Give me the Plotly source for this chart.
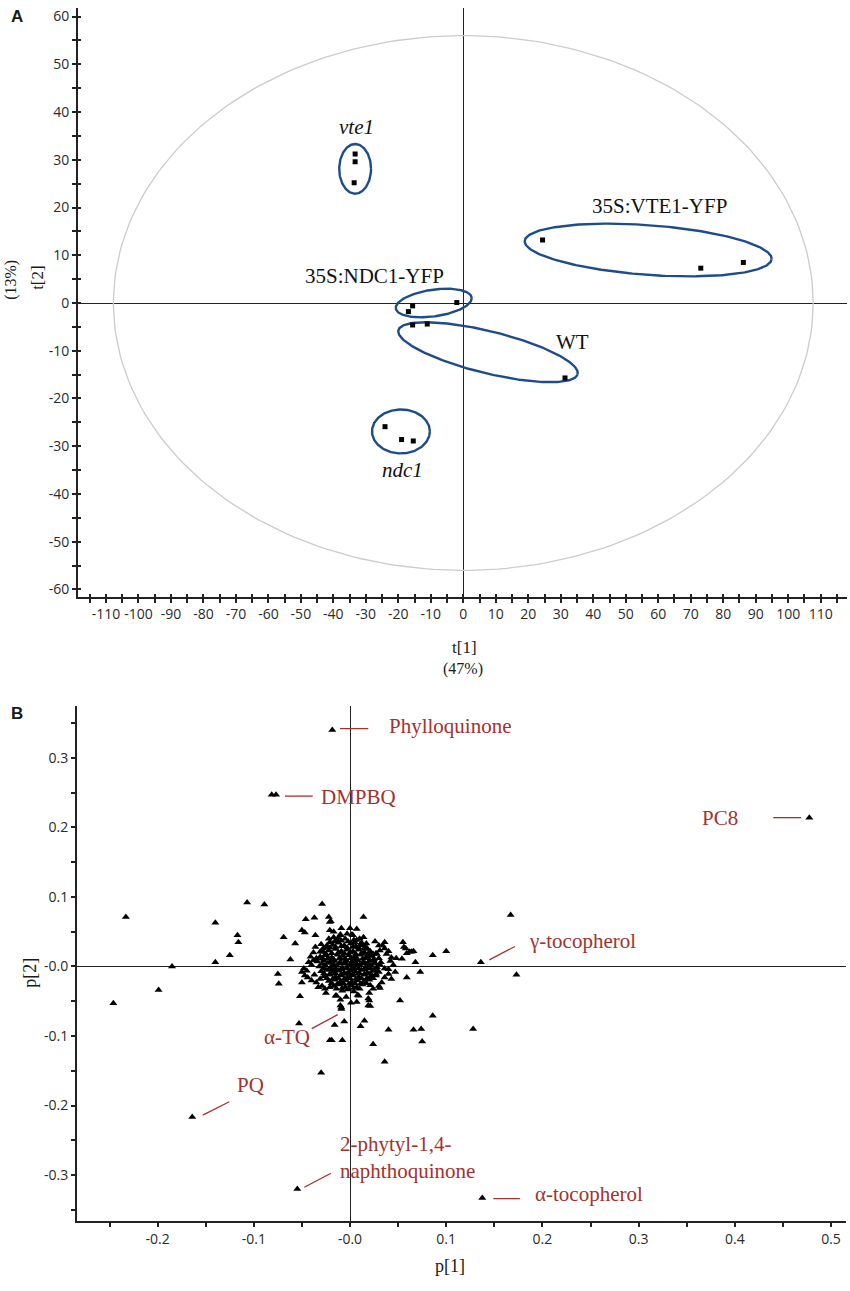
import numpy as np
import plotly.graph_objects as go

# ---------------- panel A : scores t[1] / t[2] ----------------
vte1_x = [-33.3, -33.3, -33.6]
vte1_y = [31.2, 29.6, 25.2]
vte1oe_x = [24.4, 73.1, 86.2]
vte1oe_y = [13.2, 7.3, 8.5]
ndc1oe_x = [-15.6, -16.9, -2.0]
ndc1oe_y = [-0.6, -1.8, 0.1]
wt_x = [-15.6, -11.1, 31.3]
wt_y = [-4.6, -4.4, -15.7]
ndc1_x = [-24.1, -19.0, -15.4]
ndc1_y = [-25.9, -28.6, -28.9]

# group ellipses: centre x, centre y, half width (t1 units), half height (t2 units), tilt (deg)
group_names = ["vte1", "35S:VTE1-YFP", "35S:NDC1-YFP", "WT", "ndc1"]
group_cx = [-33.3, 56.9, -9.1, 7.6, -19.2]
group_cy = [28.1, 11.1, 0.0, -10.3, -26.9]
group_rx = [4.9, 38.1, 11.8, 28.4, 8.9]
group_ry = [5.2, 5.2, 2.8, 4.4, 4.6]
group_tilt = [0, -4.2, 8.2, -13.8, 0]
hotelling_rx, hotelling_ry = 107.7, 56.0

# ---------------- panel B : loadings p[1] / p[2] ----------------
named_x = [-0.0184, -0.0814, -0.0769, 0.4775, 0.136, 0.1375, -0.0548, -0.164, -0.010, -0.009]
named_y = [0.340, 0.247, 0.247, 0.214, 0.006, -0.333, -0.320, -0.2166, -0.056, -0.061]

outer_x = [-0.233, -0.246, -0.185, -0.199, -0.140, -0.140, -0.125, -0.117, -0.116, -0.107,
           -0.089, -0.075, -0.074, -0.069, -0.057, -0.062, -0.029, -0.046, -0.037, -0.022,
           0.014, -0.050, -0.047, -0.036, -0.021, -0.020, -0.052, -0.050, -0.053, -0.030,
           -0.021, -0.019, -0.008, -0.016, -0.006, 0.011, 0.015, 0.024, 0.036, 0.040,
           0.052, 0.066, 0.074, 0.075, 0.020, 0.019, 0.001, 0.086, 0.128, 0.167,
           0.173, 0.100, 0.086, 0.073, 0.059, 0.068, 0.064, 0.059, 0.055, 0.056,
           0.054, 0.036, 0.030]
outer_y = [0.071, -0.053, 0.000, -0.034, 0.063, 0.006, 0.016, 0.045, 0.035, 0.092,
           0.089, -0.011, -0.025, 0.042, 0.033, 0.010, 0.090, 0.068, 0.070, 0.071,
           0.071, 0.052, 0.049, 0.045, 0.064, 0.065, -0.043, -0.023, -0.082, -0.153,
           -0.106, -0.106, -0.106, -0.084, -0.079, -0.086, -0.078, -0.112, -0.137, -0.091,
           -0.049, -0.091, -0.090, -0.108, -0.049, -0.056, -0.052, -0.071, -0.090, 0.074,
           -0.012, 0.022, 0.016, -0.008, -0.016, 0.006, 0.021, 0.019, 0.035, 0.028,
           0.011, 0.035, 0.030]

edge_x = [0.007, 0.000, -0.009, -0.021, -0.017, 0.010, 0.016, 0.031, 0.036, 0.040,
          0.028, 0.043, 0.048, 0.058, 0.062, 0.066, 0.036, 0.040, 0.043, 0.033,
          0.021, 0.024, 0.031, 0.009, 0.007, 0.019, 0.021, -0.014, -0.010, -0.009,
          -0.021, -0.026, -0.029, -0.031, -0.035, -0.040, -0.045, -0.048, -0.050, -0.047,
          -0.043, -0.038, -0.041, -0.035, -0.031, -0.028, -0.024, -0.026, -0.021, -0.017,
          -0.014, -0.010, -0.003, 0.003, 0.007, 0.010, 0.017, 0.021, 0.024, 0.021,
          0.026, 0.022, 0.017]
edge_y = [0.054, 0.055, 0.055, 0.052, 0.050, 0.040, 0.028, 0.023, 0.026, 0.022,
          0.018, 0.013, 0.012, 0.026, 0.021, 0.022, -0.003, -0.011, -0.018, -0.023,
          -0.027, -0.032, -0.031, -0.042, -0.051, -0.046, -0.057, -0.042, -0.048, -0.059,
          -0.030, -0.032, -0.028, -0.018, -0.023, -0.020, -0.006, -0.003, -0.008, -0.013,
          0.006, 0.009, 0.014, 0.012, 0.021, 0.026, 0.030, 0.016, 0.035, 0.042,
          0.038, 0.045, 0.047, 0.045, 0.038, 0.030, 0.033, 0.018, 0.009, 0.001,
          -0.006, -0.013, -0.018]

ring_x = [-0.038, -0.040, -0.037, -0.033, -0.025, -0.015, -0.004, 0.008, 0.020, 0.030,
          0.036, 0.040, 0.042, 0.038, 0.034, 0.026, 0.014, 0.002, -0.010, -0.022,
          -0.030, -0.036, 0.045, 0.047, -0.044]
ring_y = [0.020, 0.002, -0.012, -0.030, -0.038, -0.042, -0.044, -0.041, -0.038, -0.028,
          -0.016, -0.004, 0.008, 0.018, 0.030, 0.036, 0.042, 0.046, 0.046, 0.040,
          0.032, 0.028, 0.002, -0.008, -0.016]

core_x = [-0.024, -0.018, -0.012, -0.006, 0.001, 0.006, 0.012, 0.018,
          -0.028, -0.022, -0.015, -0.009, -0.003, 0.003, 0.009, 0.015, 0.021, 0.027,
          -0.031, -0.025, -0.019, -0.013, -0.007, -0.001, 0.005, 0.011, 0.017, 0.023, 0.030,
          -0.034, -0.027, -0.021, -0.016, -0.010, -0.004, 0.002, 0.008, 0.014, 0.020, 0.026, 0.032,
          -0.032, -0.026, -0.020, -0.014, -0.008, -0.002, 0.004, 0.010, 0.016, 0.022, 0.028,
          -0.030, -0.024, -0.018, -0.012, -0.006, 0.000, 0.006, 0.012, 0.018, 0.024, 0.030,
          -0.027, -0.021, -0.015, -0.009, -0.003, 0.003, 0.009, 0.015, 0.021, 0.027,
          -0.022, -0.016, -0.010, -0.004, 0.002, 0.008, 0.014, 0.020,
          -0.017, -0.011, -0.005, 0.001, 0.007, 0.013,
          -0.008, -0.002, 0.004, -0.005, 0.004, -0.012,
          -0.004, 0.005, -0.010, 0.010, -0.001, 0.007, -0.015, 0.016]
core_y = [0.028, 0.031, 0.034, 0.030, 0.033, 0.029, 0.031, 0.026,
          0.021, 0.023, 0.025, 0.022, 0.024, 0.022, 0.024, 0.020, 0.022, 0.019,
          0.014, 0.016, 0.013, 0.017, 0.015, 0.016, 0.014, 0.017, 0.013, 0.015, 0.012,
          0.007, 0.009, 0.006, 0.008, 0.006, 0.009, 0.007, 0.009, 0.006, 0.008, 0.005, 0.006,
          0.000, 0.002, -0.001, 0.001, -0.002, 0.001, -0.001, 0.002, -0.002, 0.001, -0.001,
          -0.007, -0.005, -0.008, -0.006, -0.009, -0.006, -0.008, -0.005, -0.009, -0.006, -0.008,
          -0.014, -0.012, -0.015, -0.013, -0.016, -0.013, -0.015, -0.012, -0.016, -0.013,
          -0.021, -0.019, -0.022, -0.020, -0.023, -0.020, -0.022, -0.019,
          -0.028, -0.026, -0.029, -0.027, -0.030, -0.026,
          -0.035, -0.033, -0.036, 0.040, 0.038, 0.041,
          0.004, 0.003, 0.011, -0.010, -0.011, 0.012, -0.004, 0.004]

fill_x = [-0.021, -0.015, -0.009, -0.003, 0.003, 0.009, 0.015,
          -0.025, -0.019, -0.012, -0.006, 0.000, 0.006, 0.012, 0.018, 0.024,
          -0.029, -0.023, -0.017, -0.011, -0.005, 0.001, 0.007, 0.013, 0.019, 0.025,
          -0.029, -0.023, -0.017, -0.011, -0.005, 0.001, 0.007, 0.013, 0.019, 0.025, 0.031,
          -0.027, -0.021, -0.015, -0.009, -0.003, 0.003, 0.009, 0.015, 0.021, 0.027,
          -0.027, -0.021, -0.015, -0.009, -0.003, 0.003, 0.009, 0.015, 0.021, 0.027,
          -0.024, -0.018, -0.012, -0.006, 0.000, 0.006, 0.012, 0.018, 0.024,
          -0.019, -0.013, -0.007, -0.001, 0.005, 0.011, 0.017,
          -0.014, -0.008, -0.002, 0.004, 0.010,
          -0.016, -0.009, -0.002, 0.005, 0.012]
fill_y = [0.027, 0.028, 0.029, 0.027, 0.028, 0.027, 0.025,
          0.018, 0.019, 0.020, 0.019, 0.020, 0.018, 0.019, 0.017, 0.018,
          0.011, 0.012, 0.010, 0.012, 0.011, 0.012, 0.010, 0.011, 0.012, 0.010,
          0.004, 0.005, 0.003, 0.004, 0.005, 0.003, 0.004, 0.005, 0.003, 0.004, 0.003,
          -0.003, -0.004, -0.003, -0.004, -0.003, -0.004, -0.003, -0.004, -0.003, -0.004,
          -0.010, -0.011, -0.010, -0.011, -0.010, -0.011, -0.010, -0.011, -0.010, -0.011,
          -0.017, -0.018, -0.017, -0.018, -0.017, -0.018, -0.017, -0.018, -0.017,
          -0.024, -0.025, -0.024, -0.025, -0.024, -0.025, -0.024,
          -0.032, -0.031, -0.032, -0.031, -0.032,
          0.036, 0.037, 0.036, 0.035, 0.034]

label_text = ["Phylloquinone", "DMPBQ", "PC8", "γ-tocopherol", "α-tocopherol",
              "2-phytyl-1,4-<br>naphthoquinone", "PQ", "α-TQ"]
label_x = [0.0381, -0.0319, 0.3638, 0.1837, 0.1905, -0.0122, -0.1195, -0.0912]
label_y = [0.346, 0.243, 0.214, 0.0373, -0.3276, -0.2743, -0.1707, -0.1013]
lead_x0 = [-0.0104, -0.0676, 0.440, 0.1448, 0.149, -0.0475, -0.1531, -0.0398]
lead_y0 = [0.342, 0.245, 0.214, 0.0096, -0.334, -0.3175, -0.2138, -0.0894]
lead_x1 = [0.019, -0.0388, 0.469, 0.1715, 0.1767, -0.0198, -0.1255, -0.0128]
lead_y1 = [0.342, 0.245, 0.214, 0.0287, -0.334, -0.2974, -0.1946, -0.0693]

W, H = 850, 1291


def fx(p):
    return p / W


def fy(p):
    return 1 - p / H


ax_dom = [fx(78), fx(847)]
ay_dom = [fy(597), fy(7)]
ax_rng = [-118.6, 118.1]
ay_rng = [-61.5, 61.8]
bx_dom = [fx(77), fx(846)]
by_dom = [fy(1223.3), fy(706.7)]
bx_rng = [-0.2838, 0.5156]
by_rng = [-0.3667, 0.3745]

# pixels per data unit in panel A (used to tilt ellipses on screen)
sx = (ax_dom[1] - ax_dom[0]) * W / (ax_rng[1] - ax_rng[0])
sy = (ay_dom[1] - ay_dom[0]) * H / (ay_rng[1] - ay_rng[0])


def ellipse(cx, cy, rx, ry, tilt, n=240):
    t = np.linspace(0, 2 * np.pi, n)
    a, b, th = rx * sx, ry * sy, np.radians(tilt)
    u = a * np.cos(t) * np.cos(th) - b * np.sin(t) * np.sin(th)
    v = a * np.cos(t) * np.sin(th) + b * np.sin(t) * np.cos(th)
    return cx + u / sx, cy + v / sy


SERIF = "Liberation Serif"
SANS = "Open Sans"
INK = "#222222"
RED = "#a5312e"
BLUE = "#1d4c8c"

fig = go.Figure()

hx, hy = ellipse(0, 0, hotelling_rx, hotelling_ry, 0)
fig.add_trace(go.Scatter(x=hx, y=hy, mode="lines", line=dict(color="#cccccc", width=1.3),
                         xaxis="x", yaxis="y", hoverinfo="skip"))
for i in range(len(group_names)):
    ex, ey = ellipse(group_cx[i], group_cy[i], group_rx[i], group_ry[i], group_tilt[i])
    fig.add_trace(go.Scatter(x=ex, y=ey, mode="lines", line=dict(color=BLUE, width=2.4),
                             xaxis="x", yaxis="y", hoverinfo="skip"))

for gx, gy in [(vte1_x, vte1_y), (vte1oe_x, vte1oe_y), (ndc1oe_x, ndc1oe_y), (wt_x, wt_y), (ndc1_x, ndc1_y)]:
    fig.add_trace(go.Scatter(x=gx, y=gy, mode="markers",
                             marker=dict(symbol="square", size=5, color="black"),
                             xaxis="x", yaxis="y"))

# dummy trace so the inside-tick overlay axes get drawn
fig.add_trace(go.Scatter(x=[None], y=[None], xaxis="x3", yaxis="y3", hoverinfo="skip"))

for px_, py_ in [(core_x, core_y), (fill_x, fill_y), (ring_x, ring_y), (edge_x, edge_y),
                 (outer_x, outer_y), (named_x, named_y)]:
    fig.add_trace(go.Scatter(x=px_, y=py_, mode="markers",
                             marker=dict(symbol="triangle-up", size=7, color="black"),
                             xaxis="x2", yaxis="y2"))

a_ticks = list(range(-115, 116, 5))
a_ticktext = [str(v) if v % 10 == 0 else "" for v in a_ticks]
ay_ticks = list(range(-60, 61, 5))
ay_ticktext = [str(v) if v % 10 == 0 else "" for v in ay_ticks]
bx_ticks = [-0.25, -0.2, -0.15, -0.1, -0.05, 0, 0.05, 0.1, 0.15, 0.2, 0.25, 0.3, 0.35, 0.4, 0.45, 0.5]
bx_ticktext = ["", "-0.2", "", "-0.1", "", "-0.0", "", "0.1", "", "0.2", "", "0.3", "", "0.4", "", "0.5"]
by_ticks = [-0.35, -0.3, -0.25, -0.2, -0.15, -0.1, -0.05, 0, 0.05, 0.1, 0.15, 0.2, 0.25, 0.3, 0.35]
by_ticktext = ["", "-0.3", "", "-0.2", "", "-0.1", "", "-0.0", "", "0.1", "", "0.2", "", "0.3", ""]

tickfont = dict(family=SANS, size=14, color="#2a2a2a")
common = dict(showgrid=False, showline=True, linecolor=INK, linewidth=2,
              ticks="outside", ticklen=4, tickwidth=1.5, tickcolor=INK,
              zeroline=True, zerolinecolor=INK, zerolinewidth=1.3,
              tickfont=tickfont, tickmode="array")

fig.update_layout(
    width=W, height=H, showlegend=False,
    paper_bgcolor="white", plot_bgcolor="white",
    margin=dict(l=0, r=0, t=0, b=0),
    xaxis=dict(domain=ax_dom, range=ax_rng, anchor="y", tickvals=a_ticks, ticktext=a_ticktext, **common),
    yaxis=dict(domain=ay_dom, range=ay_rng, anchor="x", tickvals=ay_ticks, ticktext=ay_ticktext, **common),
    xaxis3=dict(overlaying="x", anchor="y", range=ax_rng, tickmode="array", tickvals=a_ticks,
                ticks="inside", ticklen=3, tickwidth=1.5, tickcolor=INK, showticklabels=False,
                showline=False, showgrid=False, zeroline=False, side="bottom"),
    yaxis3=dict(overlaying="y", anchor="x", range=ay_rng, tickmode="array", tickvals=ay_ticks,
                ticks="inside", ticklen=3, tickwidth=1.5, tickcolor=INK, showticklabels=False,
                showline=False, showgrid=False, zeroline=False, side="left"),
    xaxis2=dict(domain=bx_dom, range=bx_rng, anchor="y2", tickvals=bx_ticks, ticktext=bx_ticktext, **common),
    yaxis2=dict(domain=by_dom, range=by_rng, anchor="x2", tickvals=by_ticks, ticktext=by_ticktext, **common),
)

ann = []
# group labels in panel A
glabel_text = ["<i>vte1</i>", "35S:VTE1-YFP", "35S:NDC1-YFP", "WT", "<i>ndc1</i>"]
glabel_x = [-33.0, 60.3, -27.2, 33.5, -18.7]
glabel_y = [36.8, 20.4, 5.6, -8.2, -34.9]
for t, x, y in zip(glabel_text, glabel_x, glabel_y):
    ann.append(dict(text=t, x=x, y=y, xref="x", yref="y", showarrow=False,
                    xanchor="center", yanchor="middle",
                    font=dict(family=SERIF, size=21, color="#111111")))

# metabolite labels in panel B
for t, x, y in zip(label_text, label_x, label_y):
    ann.append(dict(text=t, x=x, y=y, xref="x2", yref="y2", showarrow=False,
                    xanchor="left", yanchor="middle", align="left",
                    font=dict(family=SERIF, size=21, color=RED)))


# axis titles and panel letters
def paper_text(t, x, y, size, family=SERIF, angle=0):
    return dict(text=t, x=fx(x), y=fy(y), xref="paper", yref="paper", showarrow=False,
                xanchor="center", yanchor="middle",
                textangle=angle, font=dict(family=family, size=size, color="#1a1a1a"))


ann += [
    paper_text("t[1]", 464.5, 648, 17),
    paper_text("(47%)", 463, 670, 16),
    paper_text("t[2]", 37.5, 277, 17, angle=-90),
    paper_text("(13%)", 11.5, 280, 16, angle=-90),
    paper_text("p[1]", 450, 1268, 18),
    paper_text("p[2]", 30, 974, 18, angle=-90),
    paper_text("<b>A</b>", 17, 16, 17, family="Liberation Sans"),
    paper_text("<b>B</b>", 16.5, 714, 17, family="Liberation Sans"),
]
fig.update_layout(annotations=ann)

shapes = []
for x0, y0, x1, y1 in zip(lead_x0, lead_y0, lead_x1, lead_y1):
    shapes.append(dict(type="line", xref="x2", yref="y2", x0=x0, y0=y0, x1=x1, y1=y1,
                       line=dict(color=RED, width=1.3)))
fig.update_layout(shapes=shapes)

# drop the default 8px page margin so the figure sits at the window corner
fig.write_html("out.html", config={"displayModeBar": False},
               post_script="document.body.style.margin='0px';")
